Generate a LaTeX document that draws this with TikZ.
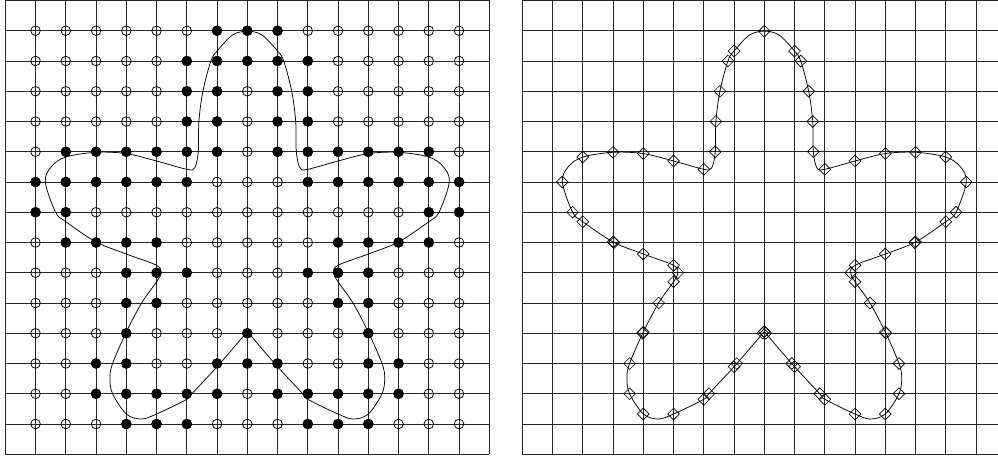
\documentclass[tikz,border=0pt]{standalone}
\usetikzlibrary{intersections,shapes.geometric}
\begin{document}
\begin{tikzpicture}[x=1pt,y=-1pt,
  gridline/.style={line width=0.9pt, black!85},
  curveline/.style={line width=0.75pt, black},
  odot/.style={draw, circle, line width=0.75pt, inner sep=0pt, minimum size=9.6pt},
  fdot/.style={draw, fill=black, circle, line width=0.5pt, inner sep=0pt, minimum size=9.8pt},
  diam/.style={draw, diamond, line width=0.65pt, inner sep=0pt, minimum size=12pt},
  starpath/.style={insert path={plot[smooth,tension=0.55] coordinates {
    (247.3,331.5) (274.7,363.5) (302.7,393.75) (307.8,399.3) (338,414) (353.3,419)
    (368.3,414) (382,393.75) (384.7,378) (382,363.5) (368.5,332.5) (353,303)
    (338,281.7) (333.7,272.75) (338,265.3) (368.3,254) (398.5,242) (428.8,221.7)
    (439,212.25) (449.3,182) (443.3,166.7) (428.8,157) (398.5,152.3) (368.3,153.6)
    (338,161) (307.8,169.3) (300,168) (296.3,151.75) (295.7,121.5) (291.7,91.25)
    (283.7,61) (277.5,51) (262,35) (247.3,31.2)
    (232.6,35) (217.1,51) (210.9,61) (202.9,91.25) (198.9,121.5) (198.3,151.75)
    (194.6,168) (186.8,169.3) (156.6,161) (126.3,153.6) (96.1,152.3) (65.8,157)
    (51.3,166.7) (45.3,182) (55.6,212.25) (65.8,221.7) (96.1,242) (126.3,254)
    (156.6,265.3) (160.9,272.75) (156.6,281.7) (141.6,303) (126.1,332.5) (112.6,363.5)
    (109.9,378) (112.6,393.75) (126.3,414) (141.3,419) (156.6,414) (186.8,399.3)
    (191.9,393.75) (219.9,363.5) (247.3,331.5)}}}
]
\useasboundingbox (0,0) rectangle (998,457);
\fill[white] (0,0) rectangle (998,457);

% ---- left panel grid ----
\foreach \k in {0,...,16}
  \draw[gridline] ({5.3+30.25*\k},0.5) -- ({5.3+30.25*\k},454.25);
\foreach \j in {0,...,15}
  \draw[gridline] (5.3,{0.5+30.25*\j}) -- (489.3,{0.5+30.25*\j});

% ---- right panel grid ----
\foreach \k in {0,...,15}
  \draw[gridline] ({522.3+30.25*\k},0.5) -- ({522.3+30.25*\k},454.25);
\foreach \j in {0,...,15}
  \draw[gridline] (522.3,{0.5+30.25*\j}) -- (998,{0.5+30.25*\j});

% ---- curves ----
\draw[curveline, starpath];
\begin{scope}[xshift=517pt]
  \draw[curveline, starpath, name path global=curveR];
\end{scope}

% ---- open dots ----
\foreach \i in {1,...,15}
  \foreach \j in {1,...,14}
    \node[odot] (o-\i-\j) at ({5.3+30.25*\i},{0.5+30.25*\j}) {};

% ---- filled dots ----
\foreach \j/\lst in {
  1/{7,8,9},
  2/{6,7,8,9,10},
  3/{6,7,9,10},
  4/{6,7,9,10},
  5/{2,3,4,5,6,7,9,10,11,12,13,14},
  6/{1,2,3,4,5,6,10,11,12,13,14,15},
  7/{1,2,14,15},
  8/{2,3,4,5,11,12,13,14},
  9/{4,5,6,10,11,12},
  10/{4,5,11,12},
  11/{4,8,12},
  12/{3,4,7,8,9,12,13},
  13/{3,4,5,6,7,9,10,11,12,13},
  14/{4,5,6,10,11,12}}
  \foreach \i in \lst
    \node[fdot] (f-\i-\j) at ({5.3+30.25*\i},{0.5+30.25*\j}) {};

% ---- diamonds at crossings (right panel) ----
\foreach \k in {1,...,15}{
  \path[name path=gv] ({522.3+30.25*\k},-5) -- ({522.3+30.25*\k},462);
  \path[name intersections={of=curveR and gv, name=iv\k, total=\nint}]
    \pgfextra{\xdef\ntot{\nint}};
  \ifnum\ntot>0
    \foreach \s in {1,...,\ntot}{\node[diam] (mv\k-\s) at (iv\k-\s) {};}
  \fi
}
\foreach \j in {1,...,14}{
  \path[name path=gh] (515,{0.5+30.25*\j}) -- (1005,{0.5+30.25*\j});
  \path[name intersections={of=curveR and gh, name=ih\j, total=\nint}]
    \pgfextra{\xdef\ntot{\nint}};
  \ifnum\ntot>0
    \foreach \s in {1,...,\ntot}{\node[diam] (mh\j-\s) at (ih\j-\s) {};}
  \fi
}
\end{tikzpicture}
\end{document}
